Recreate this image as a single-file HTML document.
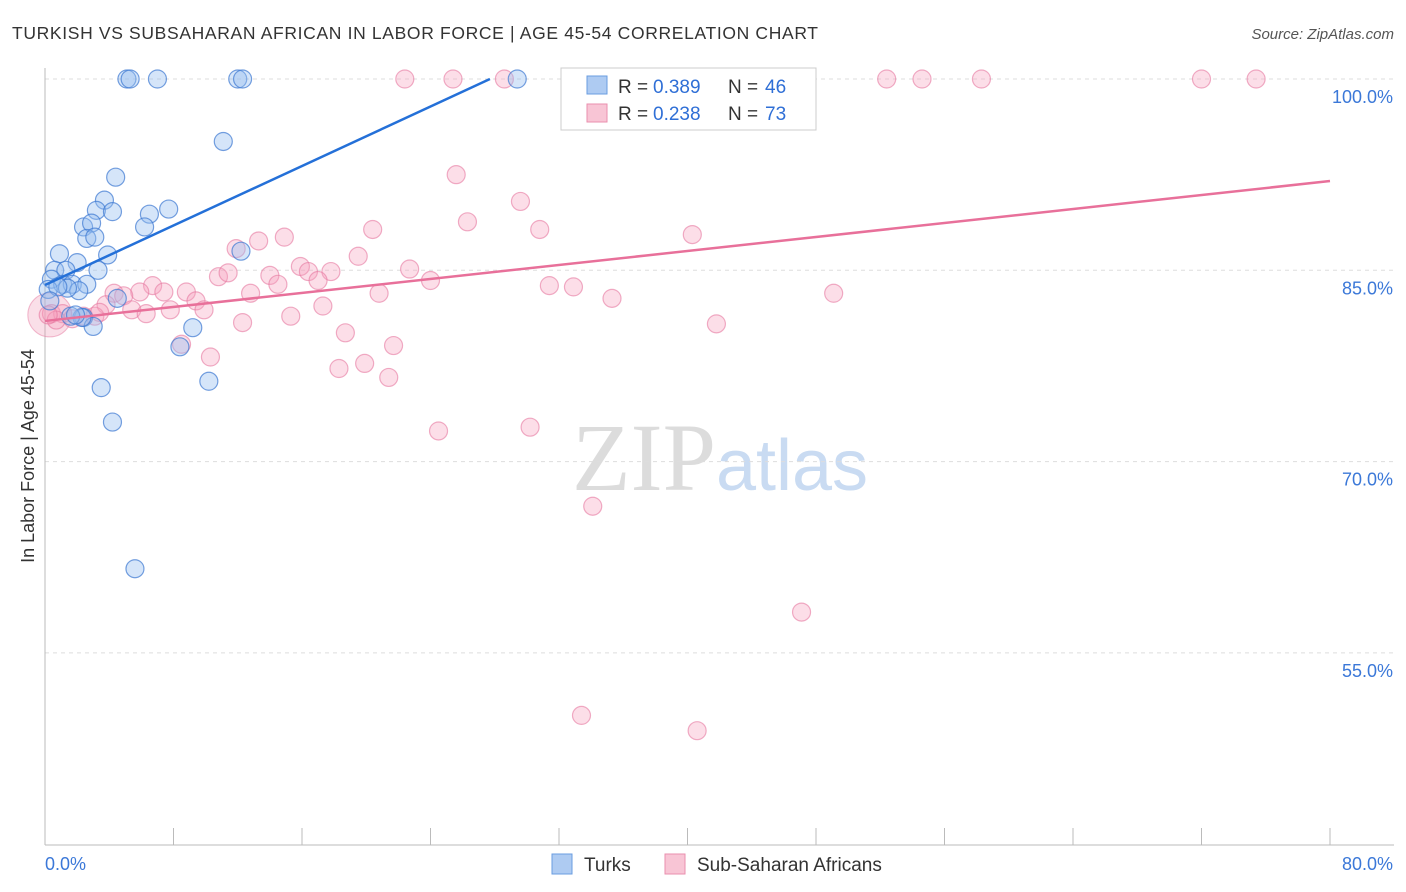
<!DOCTYPE html>
<html><head><meta charset="utf-8">
<style>
body{margin:0;background:#fff;font-family:"Liberation Sans",sans-serif;}
svg{display:block}
</style></head>
<body>
<svg id="chart" width="1406" height="892" xmlns="http://www.w3.org/2000/svg">
<text x="12" y="39" font-size="17.5" fill="#333" textLength="806" font-family="Liberation Sans, sans-serif">TURKISH VS SUBSAHARAN AFRICAN IN LABOR FORCE | AGE 45-54 CORRELATION CHART</text>
<text x="1394" y="39" font-size="15" fill="#555" font-style="italic" text-anchor="end">Source: ZipAtlas.com</text>
<text x="720" y="490" font-size="96" text-anchor="middle" font-family="Liberation Serif, serif"><tspan fill="#dcdcdc">ZIP</tspan><tspan fill="#c9dbf2" font-family="Liberation Sans, sans-serif" font-size="72">atlas</tspan></text>
<text transform="translate(34,456) rotate(-90)" font-size="18" fill="#333" text-anchor="middle">In Labor Force | Age 45-54</text>
<g id="grid"></g><g id="axes"></g><g id="marks"></g><g id="lines"></g>
<g>
<rect x="561" y="68" width="255" height="62" fill="#fff" stroke="#ccc"/>
<rect x="587" y="76" width="20" height="18" fill="#aecbf2" stroke="#6a9de0"/>
<rect x="587" y="104" width="20" height="18" fill="#f8c5d5" stroke="#ea8fae"/>
<text x="618" y="93" font-size="19" fill="#333">R =</text><text x="653" y="93" font-size="19" fill="#2f6fd6">0.389</text>
<text x="728" y="93" font-size="19" fill="#333">N =</text><text x="765" y="93" font-size="19" fill="#2f6fd6">46</text>
<text x="618" y="120" font-size="19" fill="#333">R =</text><text x="653" y="120" font-size="19" fill="#2f6fd6">0.238</text>
<text x="728" y="120" font-size="19" fill="#333">N =</text><text x="765" y="120" font-size="19" fill="#2f6fd6">73</text>
</g>
<g>
<rect x="552" y="854" width="20" height="20" fill="#aecbf2" stroke="#6a9de0"/>
<text x="584" y="871" font-size="19" fill="#333">Turks</text>
<rect x="665" y="854" width="20" height="20" fill="#f8c5d5" stroke="#ea8fae"/>
<text x="697" y="871" font-size="19" fill="#333">Sub-Saharan Africans</text>
</g>
</svg>
<script>
const xTicks=[0,8,16,24,32,40,48,56,64,72,80];
const yTicks=[100,85,70,55];
const yTickLabels=["100.0%","85.0%","70.0%","55.0%"];
const turksX=[5.1,5.3,7.0,12.0,12.3,29.4,11.1,4.4,3.7,3.2,4.2,6.5,7.7,2.4,2.9,6.2,2.6,3.1,0.9,3.9,12.2,2.0,0.6,1.3,3.3,0.4,1.1,1.7,2.6,2.1,1.4,0.2,0.8,2.4,3.0,9.2,4.5,8.4,2.3,3.5,10.2,4.2,5.6,0.3,1.6,1.9];
const turksY=[100,100,100,100,100,100,95.1,92.3,90.5,89.7,89.6,89.4,89.8,88.4,88.7,88.4,87.5,87.6,86.3,86.2,86.5,85.6,85.0,85.0,85.0,84.3,83.9,83.9,83.9,83.4,83.6,83.5,83.7,81.3,80.6,80.5,82.8,79.0,81.3,75.8,76.3,73.1,61.6,82.6,81.4,81.5];
const afrX=[22.4,25.4,28.6,43.3,52.4,54.6,58.3,72.0,75.4,25.6,29.6,26.3,30.8,20.4,40.3,13.3,14.9,11.9,19.5,15.9,16.4,17.8,22.7,14.0,10.8,11.4,14.5,17.0,24.0,31.4,32.9,35.3,49.1,6.7,5.9,7.4,8.8,12.8,20.8,4.3,4.9,9.4,3.8,9.9,7.8,5.4,6.3,15.3,17.3,12.3,41.8,18.7,21.7,8.5,10.3,19.9,18.3,21.4,24.5,30.2,34.1,47.1,33.4,40.6,0.4,1.1,1.7,2.4,3.1,3.4,0.7,0.2];
const afrY=[100,100,100,100,100,100,100,100,100,92.5,90.4,88.8,88.2,88.2,87.8,87.3,87.6,86.7,86.1,85.3,84.9,84.9,85.1,84.6,84.5,84.8,83.9,84.2,84.2,83.8,83.7,82.8,83.2,83.8,83.3,83.3,83.3,83.2,83.2,83.2,83.0,82.6,82.3,81.9,81.9,81.9,81.6,81.4,82.2,80.9,80.8,80.1,79.1,79.2,78.2,77.7,77.3,76.6,72.4,72.7,66.5,58.2,50.1,48.9,81.6,81.6,81.2,81.4,81.4,81.7,81.1,81.5];
const blueLine=[[0,83.85],[27.7,100]];
const pinkLine=[[0,81.03],[80,92.0]];
const NS="http://www.w3.org/2000/svg";
const X=v=>45+v/80*1285, Y=v=>79+(100-v)/15*191.3;
function mk(tag,attrs,parent){const e=document.createElementNS(NS,tag);for(const k in attrs)e.setAttribute(k,attrs[k]);document.getElementById(parent).appendChild(e);return e;}
yTicks.forEach((t,i)=>{
 const g=mk('line',{x1:45,x2:1394,y1:Y(t),y2:Y(t),stroke:'#ddd','stroke-dasharray':'4,4'},'grid');
 
 
 const l=mk('text',{x:1393,y:Y(t)+24,'font-size':18,fill:'#3b78d8','text-anchor':'end'},'axes');
 l.textContent=yTickLabels[i];
 
 
});
const ax=mk('line',{x1:45,x2:45,y1:68,y2:845,stroke:'#bbb'},'axes');


const bx=mk('line',{x1:45,x2:1394,y1:845,y2:845,stroke:'#bbb'},'axes');


xTicks.forEach(t=>{const e=mk('line',{x1:X(t),x2:X(t),y1:828,y2:845,stroke:'#bbb'},'axes');
 
 });
[["0.0%",45,'start'],["80.0%",1393,'end']].forEach(a=>{const e=mk('text',{x:a[1],y:870,'font-size':18,fill:'#3b78d8','text-anchor':a[2]},'axes');e.textContent=a[0];
 
 });
const big=mk('circle',{cx:X(0.3),cy:Y(81.5),r:22,fill:'rgba(240,150,180,0.3)',stroke:'rgba(230,120,160,0.5)'},'marks');


afrX.forEach((x,i)=>{const c=mk('circle',{cx:X(x),cy:Y(afrY[i]),r:9,fill:'rgba(245,160,190,0.35)',stroke:'rgba(230,120,160,0.6)','stroke-width':1.2},'marks');
 
 });
turksX.forEach((x,i)=>{const c=mk('circle',{cx:X(x),cy:Y(turksY[i]),r:9,fill:'rgba(150,190,240,0.4)',stroke:'rgba(60,120,210,0.7)','stroke-width':1.2},'marks');
 
 });
const bl=mk('line',{x1:X(blueLine[0][0]),y1:Y(blueLine[0][1]),x2:X(blueLine[1][0]),y2:Y(blueLine[1][1]),stroke:'#2470d8','stroke-width':2.5},'lines');


const pl=mk('line',{x1:X(pinkLine[0][0]),y1:Y(pinkLine[0][1]),x2:X(pinkLine[1][0]),y2:Y(pinkLine[1][1]),stroke:'#e8709a','stroke-width':2.5},'lines');


</script>
</body></html>
